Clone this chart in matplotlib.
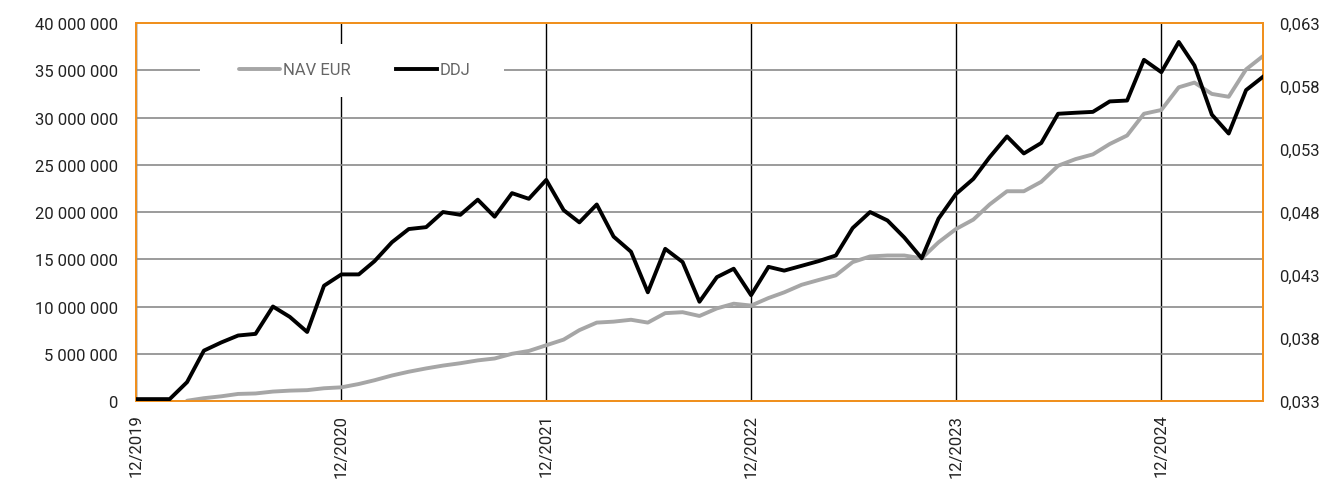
import numpy as np
import pandas as pd
import matplotlib
matplotlib.use("Agg")
import matplotlib.pyplot as plt
from matplotlib.patches import Rectangle
from matplotlib.ticker import FuncFormatter, FixedLocator

plt.rcParams["font.family"] = ["Roboto", "DejaVu Sans"]

# monthly dates, 12/2019 .. 06/2025
dates = pd.date_range("2019-12-31", periods=67, freq="ME")

# NAV EUR (left axis), starts in 03/2020
nav_eur = [np.nan, np.nan, np.nan,
           0.03e6, 0.3e6, 0.5e6, 0.75e6, 0.8e6, 1.0e6, 1.1e6, 1.15e6, 1.35e6,
           1.45e6, 1.8e6, 2.2e6, 2.7e6, 3.1e6, 3.45e6, 3.75e6, 4.0e6, 4.3e6,
           4.5e6, 5.0e6, 5.3e6, 5.9e6, 6.5e6, 7.5e6, 8.3e6, 8.4e6, 8.6e6,
           8.3e6, 9.3e6, 9.4e6, 9.0e6, 9.8e6, 10.3e6, 10.1e6, 10.9e6, 11.5e6,
           12.3e6, 12.8e6, 13.3e6, 14.7e6, 15.3e6, 15.4e6, 15.4e6, 15.1e6,
           16.8e6, 18.2e6, 19.2e6, 20.8e6, 22.2e6, 22.2e6, 23.2e6, 24.9e6,
           25.6e6, 26.1e6, 27.2e6, 28.1e6, 30.4e6, 30.8e6, 33.2e6, 33.7e6,
           32.5e6, 32.2e6, 35.1e6, 36.5e6]

# DDJ (right axis)
ddj = [0.03315, 0.03315, 0.03315, 0.0345, 0.0370, 0.03765, 0.0382, 0.03833,
       0.0405, 0.03968, 0.03848, 0.04215, 0.04305, 0.04305, 0.0441, 0.0456,
       0.04665, 0.0468, 0.0480, 0.04778, 0.04898, 0.04763, 0.0495, 0.04905,
       0.05055, 0.04815, 0.04718, 0.0486, 0.04605, 0.04485, 0.04163, 0.04508,
       0.04403, 0.04088, 0.04283, 0.0435, 0.0414, 0.04365, 0.04335, 0.04373,
       0.0441, 0.04455, 0.04673, 0.0480, 0.04733, 0.04598, 0.04433, 0.04748,
       0.04943, 0.05063, 0.05235, 0.0540, 0.05265, 0.05348, 0.0558, 0.05588,
       0.05595, 0.05678, 0.05685, 0.06008, 0.0591, 0.0615, 0.05963, 0.05573,
       0.05423, 0.05768, 0.05873]

year_ticks = pd.to_datetime(["2019-12-31", "2020-12-31", "2021-12-31",
                             "2022-12-31", "2023-12-31", "2024-12-31"])
year_labels = ["12/2019", "12/2020", "12/2021", "12/2022", "12/2023", "12/2024"]

orange = "#F0901E"

fig = plt.figure(figsize=(13.28, 4.81), dpi=100)
ax = fig.add_axes([0.1024, 0.1642, 0.8486, 0.7858])
ax2 = ax.twinx()

ax.set_ylim(0, 40e6)
ax.set_yticks(np.arange(0, 40e6 + 1, 5e6))
ax.yaxis.set_major_formatter(FuncFormatter(lambda v, p: f"{v:,.0f}".replace(",", " ")))
ax2.set_ylim(0.033, 0.063)
ax2.yaxis.set_major_locator(FixedLocator(np.linspace(0.033, 0.063, 7)))
ax2.yaxis.set_major_formatter(FuncFormatter(lambda v, p: f"{v:.3f}".replace(".", ",")))

ax.set_xlim(dates[0], dates[-1])
ax.set_xticks(year_ticks)
ax.set_xticklabels(year_labels, rotation=90, va="top")

ax.grid(axis="y", color="#8a8a8a", linewidth=1.2)
ax.grid(axis="x", color="black", linewidth=1.0)
ax.set_axisbelow(True)

ax.plot(dates, nav_eur, color="#A6A6A6", linewidth=2.8, label="NAV EUR",
        solid_capstyle="round", zorder=3)
ax2.plot(dates, ddj, color="black", linewidth=2.8, label="DDJ", zorder=3)

for a in (ax, ax2):
    a.tick_params(length=0, labelsize=12, colors="#222222")
    for s in a.spines.values():
        s.set_color(orange)
        s.set_linewidth(1.4)
ax.tick_params(axis="y", pad=13)
ax.tick_params(axis="x", pad=9)
ax2.tick_params(axis="y", pad=12)
ax2.patch.set_visible(False)

# white box behind the legend (covers the grid)
ax2.add_patch(Rectangle((0.0568, 0.804), 0.2697, 0.140, transform=ax2.transAxes,
                        facecolor="white", edgecolor="none", zorder=4))

h1, l1 = ax.get_legend_handles_labels()
h2, l2 = ax2.get_legend_handles_labels()
leg = ax2.legend(h1 + h2, l1 + l2, loc="center", bbox_to_anchor=(0.194, 0.876),
                 ncol=2, frameon=False, fontsize=12, handlelength=2.5,
                 handletextpad=0.15, columnspacing=2.7)
leg.set_zorder(5)
for t in leg.get_texts():
    t.set_color("#666666")

fig.savefig("out.png", dpi=100)
